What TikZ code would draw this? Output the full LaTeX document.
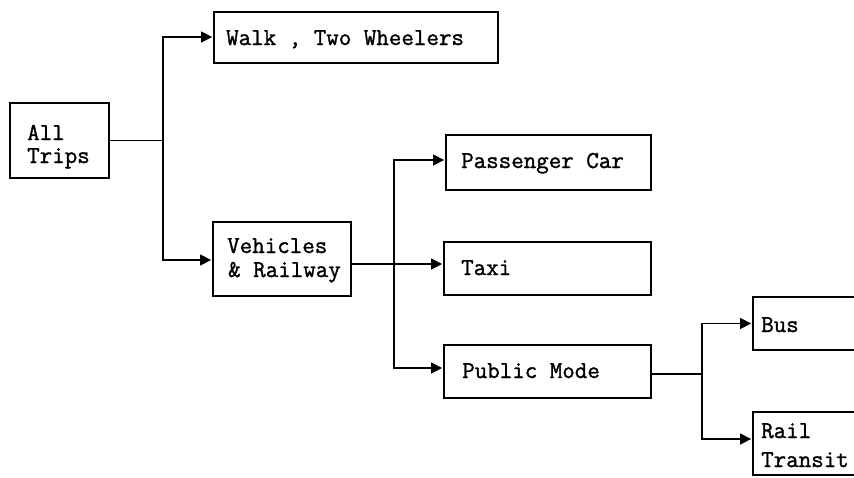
\documentclass[tikz,border=0pt]{standalone}
\usepackage{fontspec}
\newfontfamily\twfont[FakeBold=1.3]{Latin Modern Mono}
\usetikzlibrary{arrows.meta}
\tikzset{
  box/.style={draw, line width=2.8pt, inner sep=0pt},
  lbl/.style={anchor=base west, inner sep=0pt, font=\twfont\fontsize{24.3}{26}\selectfont},
  conn/.style={line width=1.5pt},
  arr/.style={conn, -{Triangle[length=11pt, width=11pt]}, shorten >=0.5pt}
}
\begin{document}
\begin{tikzpicture}[x=1pt, y=-1pt]
\useasboundingbox (0,0) rectangle (854,477);
\fill[white] (0,0) rectangle (854,477);
\clip (0,0) rectangle (854,477);

% boxes
\node[box, minimum width=99pt,  minimum height=75pt] (allt) at (59.5,140.5) {};
\node[box, minimum width=284pt, minimum height=51pt] (walk) at (356,37.5) {};
\node[box, minimum width=138pt, minimum height=74pt] (veh)  at (282,259) {};
\node[box, minimum width=205pt, minimum height=55pt] (pc)   at (548.5,162.5) {};
\node[box, minimum width=207pt, minimum height=53pt] (taxi) at (547.5,268.5) {};
\node[box, minimum width=207pt, minimum height=53pt] (pm)   at (547.5,371.5) {};
\node[box, minimum width=127pt, minimum height=53pt] (bus)  at (816.5,323.5) {};
\node[box, minimum width=127pt, minimum height=63pt] (rail) at (816.5,443.5) {};

% texts
\node[lbl] (t-all)   at (27,140)  {All};
\node[lbl] (t-trips) at (27,163)  {Trips};
\node[lbl] (t-walk)  at (226,45)  {Walk , Two Wheelers};
\node[lbl] (t-veh)   at (227,253) {Vehicles};
\node[lbl] (t-rly)   at (228,277) {\& Railway};
\node[lbl] (t-pc)    at (461,168) {Passenger Car};
\node[lbl] (t-taxi)  at (461,275) {Taxi};
\node[lbl] (t-pm)    at (462,378) {Public Mode};
\node[lbl] (t-bus)   at (761,332) {Bus};
\node[lbl] (t-rail)  at (761,438) {Rail};
\node[lbl] (t-trans) at (761,467) {Transit};

% junctions
\coordinate (j1) at (163,140.5);
\coordinate (j2) at (394,264);
\coordinate (j3) at (702,374);

% connectors
\draw[conn] (allt.east) -- (j1);
\draw[arr] (j1) |- ([yshift=0.5pt]walk.west);
\draw[arr] (j1) |- ([yshift=-1pt]veh.west);

\draw[conn] (veh.east |- j2) -- (j2);
\draw[arr] (j2) -- (taxi.west |- j2);
\draw[arr] (j2) |- ([yshift=2.5pt]pc.west);
\draw[arr] (j2) |- ([yshift=3.5pt]pm.west);

\draw[conn] (pm.east |- j3) -- (j3);
\draw[arr] (j3) |- (bus.west);
\draw[arr] (j3) |- ([yshift=4.5pt]rail.west);
\end{tikzpicture}
\end{document}
